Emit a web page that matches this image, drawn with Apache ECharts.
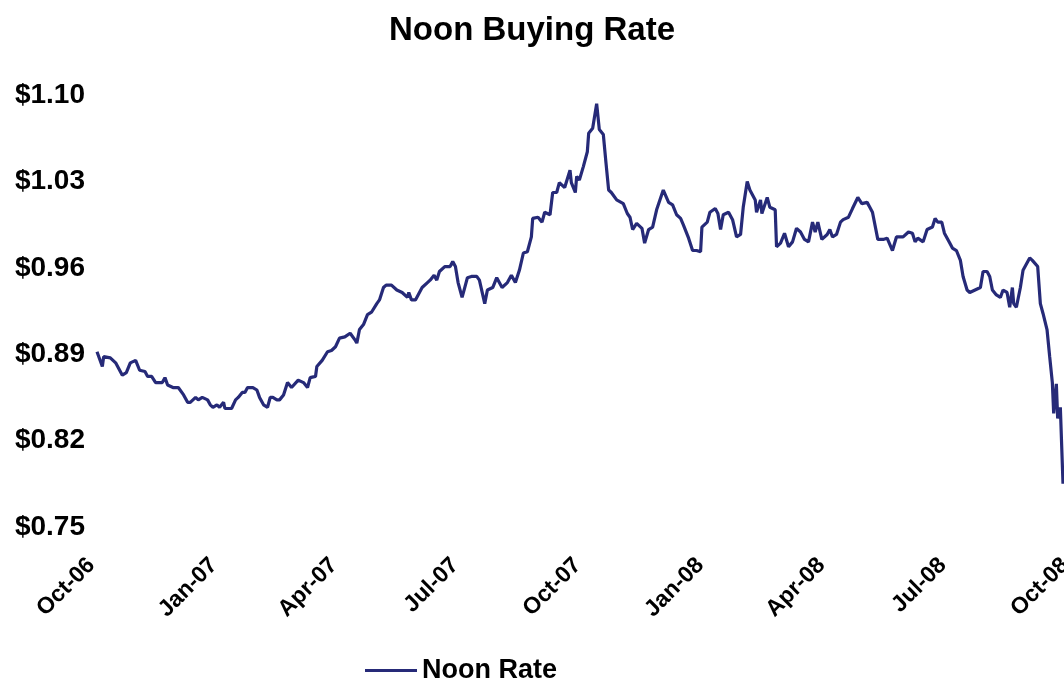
<!DOCTYPE html>
<html>
<head>
<meta charset="utf-8">
<title>Noon Buying Rate</title>
<script src="https://cdn.jsdelivr.net/npm/echarts@6/dist/echarts.min.js"></script>
<style>
  html, body { margin: 0; padding: 0; background: #fff; }
  #chart { width: 1064px; height: 679px; }
</style>
</head>
<body>
<div id="chart"></div>
<script>
// noon buying rate (US$)
var dates = [
  '2006-10-26','2006-10-30','2006-10-31','2006-11-05','2006-11-09','2006-11-14','2006-11-17','2006-11-20','2006-11-24','2006-11-27',
  '2006-12-01','2006-12-03','2006-12-06','2006-12-09','2006-12-11','2006-12-14','2006-12-16','2006-12-18','2006-12-22','2006-12-26',
  '2006-12-30','2007-01-02','2007-01-04','2007-01-08','2007-01-10','2007-01-13','2007-01-17','2007-01-19','2007-01-21','2007-01-24',
  '2007-01-26','2007-01-29','2007-01-30','2007-02-01','2007-02-04','2007-02-07','2007-02-09','2007-02-12','2007-02-14','2007-02-16',
  '2007-02-20','2007-02-23','2007-02-25','2007-02-28','2007-03-03','2007-03-05','2007-03-07','2007-03-10','2007-03-12','2007-03-15',
  '2007-03-18','2007-03-21','2007-03-26','2007-03-30','2007-04-02','2007-04-04','2007-04-08','2007-04-09','2007-04-13','2007-04-17',
  '2007-04-20','2007-04-23','2007-04-26','2007-04-30','2007-05-04','2007-05-08','2007-05-09','2007-05-11','2007-05-14','2007-05-17',
  '2007-05-20','2007-05-24','2007-05-26','2007-05-29','2007-05-31','2007-06-04','2007-06-08','2007-06-12','2007-06-16','2007-06-17',
  '2007-06-19','2007-06-22','2007-06-24','2007-06-27','2007-07-01','2007-07-03','2007-07-06','2007-07-08','2007-07-10','2007-07-14',
  '2007-07-18','2007-07-20','2007-07-22','2007-07-24','2007-07-27','2007-07-29','2007-07-31','2007-08-03','2007-08-07','2007-08-09',
  '2007-08-13','2007-08-15','2007-08-19','2007-08-22','2007-08-26','2007-08-30','2007-09-02','2007-09-05','2007-09-08','2007-09-11',
  '2007-09-14','2007-09-17','2007-09-18','2007-09-22','2007-09-25','2007-09-27','2007-10-01','2007-10-03','2007-10-06','2007-10-08',
  '2007-10-12','2007-10-16','2007-10-17','2007-10-20','2007-10-21','2007-10-23','2007-10-26','2007-10-29','2007-10-30','2007-11-02',
  '2007-11-05','2007-11-07','2007-11-10','2007-11-12','2007-11-14','2007-11-16','2007-11-20','2007-11-25','2007-11-28','2007-11-30',
  '2007-12-02','2007-12-05','2007-12-09','2007-12-11','2007-12-14','2007-12-17','2007-12-20','2007-12-25','2007-12-29','2008-01-01',
  '2008-01-04','2008-01-07','2008-01-09','2008-01-13','2008-01-16','2008-01-19','2008-01-22','2008-01-23','2008-01-27','2008-01-29',
  '2008-02-02','2008-02-04','2008-02-06','2008-02-08','2008-02-12','2008-02-15','2008-02-18','2008-02-21','2008-02-23','2008-02-26',
  '2008-02-28','2008-03-03','2008-03-04','2008-03-07','2008-03-08','2008-03-12','2008-03-14','2008-03-18','2008-03-19','2008-03-22',
  '2008-03-25','2008-03-28','2008-03-31','2008-04-03','2008-04-06','2008-04-09','2008-04-12','2008-04-15','2008-04-17','2008-04-19',
  '2008-04-22','2008-04-26','2008-04-28','2008-04-30','2008-05-03','2008-05-06','2008-05-08','2008-05-12','2008-05-15','2008-05-19',
  '2008-05-22','2008-05-26','2008-05-28','2008-05-30','2008-06-03','2008-06-07','2008-06-10','2008-06-14','2008-06-17','2008-06-22',
  '2008-06-26','2008-06-29','2008-07-01','2008-07-03','2008-07-07','2008-07-10','2008-07-14','2008-07-16','2008-07-18','2008-07-21',
  '2008-07-23','2008-07-27','2008-07-29','2008-08-01','2008-08-04','2008-08-06','2008-08-09','2008-08-11','2008-08-15','2008-08-19',
  '2008-08-21','2008-08-24','2008-08-26','2008-08-28','2008-08-31','2008-09-03','2008-09-05','2008-09-08','2008-09-10','2008-09-12',
  '2008-09-13','2008-09-15','2008-09-18','2008-09-20','2008-09-25','2008-09-27','2008-10-01','2008-10-03','2008-10-05','2008-10-08',
  '2008-10-10','2008-10-12','2008-10-13','2008-10-15','2008-10-16','2008-10-18','2008-10-20'
];
var rates = [
  0.892,0.880,0.888,0.887,0.883,0.873,0.875,0.883,0.885,0.877,
  0.876,0.872,0.872,0.867,0.867,0.867,0.871,0.865,0.863,0.863,
  0.857,0.851,0.851,0.855,0.853,0.855,0.853,0.849,0.847,0.849,
  0.847,0.851,0.846,0.846,0.846,0.853,0.855,0.859,0.859,0.863,
  0.863,0.861,0.855,0.849,0.847,0.855,0.855,0.853,0.853,0.857,
  0.867,0.863,0.869,0.867,0.863,0.871,0.872,0.880,0.885,0.892,
  0.893,0.896,0.903,0.904,0.907,0.901,0.899,0.910,0.914,0.922,
  0.924,0.931,0.934,0.944,0.946,0.946,0.942,0.940,0.936,0.940,
  0.934,0.934,0.938,0.944,0.948,0.950,0.954,0.950,0.957,0.961,
  0.961,0.965,0.961,0.948,0.936,0.944,0.952,0.953,0.953,0.950,
  0.931,0.942,0.944,0.952,0.944,0.948,0.954,0.948,0.958,0.972,
  0.973,0.985,1.000,1.001,0.997,1.005,1.003,1.021,1.021,1.029,
  1.025,1.039,1.029,1.021,1.034,1.031,1.042,1.054,1.069,1.073,
  1.093,1.072,1.068,1.045,1.023,1.021,1.015,1.012,1.004,1.001,
  0.991,0.996,0.992,0.980,0.991,0.993,1.007,1.023,1.013,1.011,
  1.003,1.000,0.995,0.984,0.974,0.974,0.973,0.993,0.997,1.005,
  1.008,1.004,0.991,1.003,1.005,0.999,0.985,0.987,1.009,1.030,
  1.023,1.015,1.005,1.015,1.004,1.017,1.009,1.007,0.977,0.980,
  0.988,0.977,0.981,0.992,0.989,0.983,0.981,0.997,0.989,0.997,
  0.983,0.987,0.991,0.985,0.987,0.997,0.999,1.001,1.008,1.017,
  1.012,1.013,1.009,1.005,0.983,0.983,0.984,0.974,0.985,0.985,
  0.989,0.988,0.981,0.984,0.981,0.991,0.993,1.000,0.997,0.997,
  0.988,0.980,0.976,0.974,0.966,0.953,0.942,0.940,0.942,0.944,
  0.957,0.957,0.953,0.942,0.938,0.936,0.942,0.940,0.928,0.944,
  0.931,0.928,0.944,0.958,0.968,0.966,0.961,0.931,0.923,0.910,
  0.888,0.867,0.842,0.866,0.838,0.847,0.785
];
var yTicks = [0.75, 0.82, 0.89, 0.96, 1.03, 1.10];
var xTickDates = ['2006-10-26','2007-01-26','2007-04-26','2007-07-26','2007-10-26','2008-01-26','2008-04-26','2008-07-26','2008-10-26'];
var monthNames = ['Jan','Feb','Mar','Apr','May','Jun','Jul','Aug','Sep','Oct','Nov','Dec'];

function toTime(s) {
    var p = s.split('-');
    return new Date(+p[0], +p[1] - 1, +p[2]).getTime();
}

var seriesData = [];
for (var i = 0; i < dates.length; i++) {
    seriesData.push([toTime(dates[i]), rates[i]]);
}
var xTicks = xTickDates.map(toTime);

var chart = echarts.init(document.getElementById('chart'));
var fontFam = '"Liberation Sans", Arial, sans-serif';

var option = {
    animation: false,
    backgroundColor: '#ffffff',
    title: {
        text: 'Noon Buying Rate',
        left: 'center',
        top: 9,
        textStyle: { fontFamily: fontFam, fontSize: 33, fontWeight: 'bold', color: '#000' }
    },
    legend: {
        data: ['Noon Rate'],
        left: 360,
        top: 652,
        icon: 'rect',
        itemWidth: 52,
        itemHeight: 3,
        itemGap: 4,
        textStyle: { fontFamily: fontFam, fontSize: 27, fontWeight: 'bold', color: '#000' }
    },
    // the source picture is cut off on the right, so the plot runs past the canvas edge
    grid: {
        left: 97,
        right: -7,
        top: 95,
        bottom: 152,
        outerBoundsMode: 'none'
    },
    // dates as timestamps on a plain value axis, so the quarter labels can be placed exactly
    xAxis: {
        type: 'value',
        min: xTicks[0],
        max: xTicks[xTicks.length - 1],
        axisLine: { show: false },
        axisTick: { show: false },
        splitLine: { show: false },
        axisLabel: {
            customValues: xTicks,
            rotate: 45,
            margin: 29,
            padding: [0, 8, 0, 0],
            hideOverlap: false,
            fontFamily: fontFam,
            fontSize: 23,
            fontWeight: 'bold',
            color: '#000',
            formatter: function (val) {
                var d = new Date(val);
                var yy = String(d.getFullYear()).slice(2);
                return monthNames[d.getMonth()] + '-' + yy;
            }
        }
    },
    yAxis: {
        type: 'value',
        min: 0.75,
        max: 1.10,
        axisLine: { show: false },
        axisTick: { show: false },
        splitLine: { show: false },
        axisLabel: {
            customValues: yTicks,
            margin: 12,
            fontFamily: fontFam,
            fontSize: 28,
            fontWeight: 'bold',
            color: '#000',
            formatter: function (val) {
                return '$' + val.toFixed(2);
            }
        }
    },
    series: [{
        name: 'Noon Rate',
        type: 'line',
        data: seriesData,
        showSymbol: false,
        symbol: 'none',
        lineStyle: { color: '#262a78', width: 3.2 },
        itemStyle: { color: '#262a78' }
    }]
};
chart.setOption(option);
</script>
</body>
</html>
